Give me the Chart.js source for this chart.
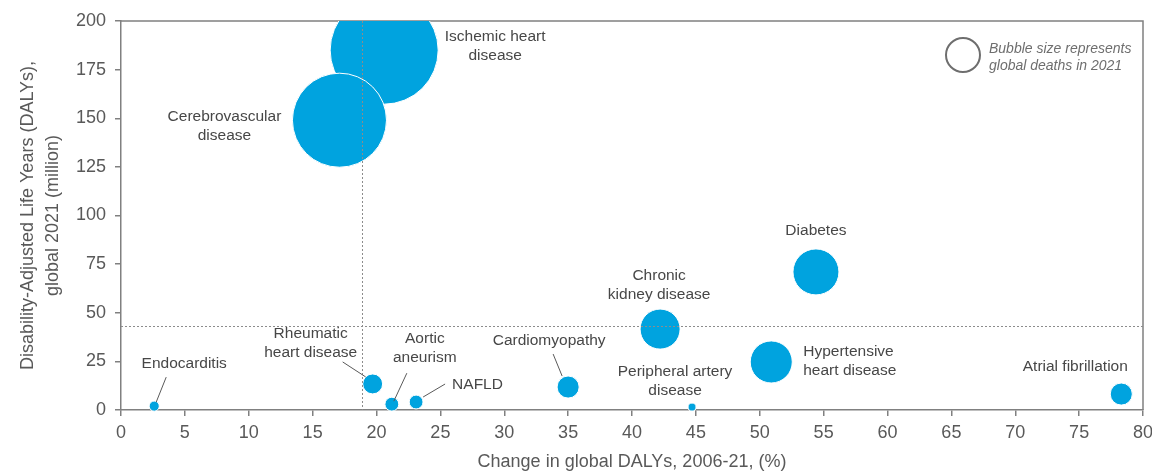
<!DOCTYPE html>
<html>
<head>
<meta charset="utf-8">
<script src="https://cdn.jsdelivr.net/npm/chart.js@4.4.1/dist/chart.umd.min.js"></script>
<style>
  html, body { margin: 0; padding: 0; background: #fff; }
  #wrap { width: 1152px; height: 474px; position: relative; }
</style>
</head>
<body>
<div id="wrap"><canvas id="dalyChart"></canvas></div>
<script>
// Causas cardiovasculares y metabólicas
const diseases = [
  'Ischemic heart disease', 'Cerebrovascular disease', 'Diabetes', 'Chronic kidney disease',
  'Hypertensive heart disease', 'Atrial fibrillation', 'Cardiomyopathy', 'Peripheral artery disease',
  'NAFLD', 'Aortic aneurism', 'Rheumatic heart disease', 'Endocarditis'
];
// Cambio en DALYs 2006-21 (%)
const dalyChange = [20.6, 17.1, 54.4, 42.2, 50.9, 78.3, 35.0, 44.7, 23.1, 21.2, 19.7, 2.6];
// DALYs 2021 (millones)
const dalys2021 = [185, 149, 71, 41.6, 24.7, 8.2, 11.8, 1.5, 4.1, 3.0, 13.4, 2.0];
// Muertes globales 2021 (millones) -> tamaño de la burbuja
const deaths2021 = [9.1, 6.9, 1.65, 1.25, 1.38, 0.38, 0.38, 0.05, 0.15, 0.15, 0.31, 0.08];
// Promedios que marcan las líneas punteadas
const avgChange = 18.9;
const avgDalys = 43.2;
const xTicks = { min: 0, max: 80, step: 5 };
const yTicks = { min: 0, max: 200, step: 25 };

// Textos de las etiquetas (una línea por elemento)
const labelLines = [
  ['Ischemic heart', 'disease'], ['Cerebrovascular', 'disease'], ['Diabetes'], ['Chronic', 'kidney disease'],
  ['Hypertensive', 'heart disease'], ['Atrial fibrillation'], ['Cardiomyopathy'], ['Peripheral artery', 'disease'],
  ['NAFLD'], ['Aortic', 'aneurism'], ['Rheumatic', 'heart disease'], ['Endocarditis']
];
// Desplazamiento de la primera línea respecto al centro de la burbuja (px) y alineación
const labelOffsets = [
  [111, -13, 'center'], [-115, -3, 'center'], [0, -41, 'center'], [-1, -53, 'center'],
  [32, -10, 'left'], [-46, -27, 'center'], [-19, -46, 'center'], [-17, -35, 'center'],
  [36, -17, 'left'], [33, -65, 'center'], [-62, -50, 'center'], [30, -42, 'center']
];
// Líneas guía: [índice, x1, y1, x2, y2] relativos al centro de la burbuja
const leaders = [
  [11, 12, -29, 2, -4],
  [10, -30, -22, -7, -7],
  [9, 15, -31, 2, -3],
  [8, 29, -18, 7, -5],
  [6, -15, -33, -6, -11]
];

const FONT = "'Liberation Sans', Arial, sans-serif";
const AXIS_COLOR = '#808080';
const TEXT_COLOR = '#595959';
const BUBBLE_COLOR = '#00A3DF';
const radiusScale = 17.9; // px por raíz de millón de muertes

const points = diseases.map((name, i) => ({
  x: dalyChange[i],
  y: dalys2021[i],
  r: radiusScale * Math.sqrt(deaths2021[i])
}));

// Marco superior/derecho detrás de las burbujas
const framePlugin = {
  id: 'frame',
  beforeDatasetsDraw(chart) {
    const { ctx, chartArea: a } = chart;
    ctx.save();
    ctx.strokeStyle = AXIS_COLOR;
    ctx.lineWidth = 1.5;
    ctx.beginPath();
    ctx.moveTo(a.left, a.top);
    ctx.lineTo(a.right, a.top);
    ctx.lineTo(a.right, a.bottom);
    ctx.stroke();
    ctx.restore();
  }
};

// Líneas de promedio, etiquetas y leyenda de tamaño
const annotationPlugin = {
  id: 'annotations',
  afterDatasetsDraw(chart) {
    const { ctx, chartArea: a, scales: { x, y } } = chart;
    const meta = chart.getDatasetMeta(0);
    ctx.save();

    ctx.strokeStyle = '#8c8c8c';
    ctx.lineWidth = 1;
    ctx.setLineDash([2, 2]);
    const vx = Math.round(x.getPixelForValue(avgChange)) + 0.5;
    const hy = Math.round(y.getPixelForValue(avgDalys)) + 0.5;
    ctx.beginPath();
    ctx.moveTo(vx, a.top);
    ctx.lineTo(vx, a.bottom);
    ctx.moveTo(a.left, hy);
    ctx.lineTo(a.right, hy);
    ctx.stroke();
    ctx.setLineDash([]);

    ctx.strokeStyle = TEXT_COLOR;
    ctx.lineWidth = 1;
    leaders.forEach(([i, x1, y1, x2, y2]) => {
      const p = meta.data[i];
      ctx.beginPath();
      ctx.moveTo(p.x + x1, p.y + y1);
      ctx.lineTo(p.x + x2, p.y + y2);
      ctx.stroke();
    });

    ctx.fillStyle = '#474747';
    ctx.font = `15.5px ${FONT}`;
    ctx.textBaseline = 'middle';
    labelLines.forEach((lines, i) => {
      const p = meta.data[i];
      const [dx, dy, align] = labelOffsets[i];
      ctx.textAlign = align;
      lines.forEach((line, j) => {
        ctx.fillText(line, p.x + dx, p.y + dy + j * 19);
      });
    });

    // Leyenda: círculo vacío y texto en cursiva
    const cx = a.right - 180;
    const cy = a.top + 34;
    ctx.strokeStyle = '#6e6e6e';
    ctx.lineWidth = 2;
    ctx.beginPath();
    ctx.arc(cx, cy, 17, 0, Math.PI * 2);
    ctx.stroke();
    ctx.fillStyle = '#6e6e6e';
    ctx.font = `italic 14px ${FONT}`;
    ctx.textAlign = 'left';
    ctx.fillText('Bubble size represents', cx + 26, cy - 6);
    ctx.fillText('global deaths in 2021', cx + 26, cy + 11);

    ctx.restore();
  }
};

const ctx = document.getElementById('dalyChart').getContext('2d');
new Chart(ctx, {
  type: 'bubble',
  data: {
    datasets: [{
      data: points,
      backgroundColor: BUBBLE_COLOR,
      borderColor: '#ffffff',
      borderWidth: 1,
      clip: { left: false, top: 0, right: false, bottom: false }
    }]
  },
  options: {
    responsive: true,
    maintainAspectRatio: false,
    animation: false,
    layout: { autoPadding: false, padding: { top: 21, right: 9, left: 0, bottom: 0 } },
    plugins: {
      legend: { display: false },
      tooltip: { enabled: false }
    },
    scales: {
      x: {
        type: 'linear',
        min: xTicks.min,
        max: xTicks.max,
        afterFit: (scale) => {
          scale.height = 64;
          scale.paddingLeft = 0;
          scale.paddingRight = 0;
        },
        border: { color: AXIS_COLOR, width: 1.5 },
        grid: { drawOnChartArea: false, tickLength: 6, tickColor: AXIS_COLOR, lineWidth: 1.5 },
        ticks: { stepSize: xTicks.step, color: TEXT_COLOR, font: { family: FONT, size: 18 }, padding: 6 },
        title: {
          display: true,
          text: 'Change in global DALYs, 2006-21, (%)',
          color: TEXT_COLOR,
          font: { family: FONT, size: 18, lineHeight: 1.2 },
          padding: { top: 0, bottom: 1 }
        }
      },
      y: {
        type: 'linear',
        min: yTicks.min,
        max: yTicks.max,
        afterFit: (scale) => { scale.width = 121; },
        border: { color: AXIS_COLOR, width: 1.5 },
        grid: { drawOnChartArea: false, tickLength: 6, tickColor: AXIS_COLOR, lineWidth: 1.5 },
        ticks: { stepSize: yTicks.step, color: TEXT_COLOR, font: { family: FONT, size: 18 }, padding: 9 },
        title: {
          display: true,
          text: ['Disability-Adjusted Life Years (DALYs),', 'global 2021 (million)'],
          color: TEXT_COLOR,
          font: { family: FONT, size: 18, lineHeight: 1.4 },
          padding: { top: 15, bottom: 0 }
        }
      }
    }
  },
  plugins: [framePlugin, annotationPlugin]
});
</script>
</body>
</html>
